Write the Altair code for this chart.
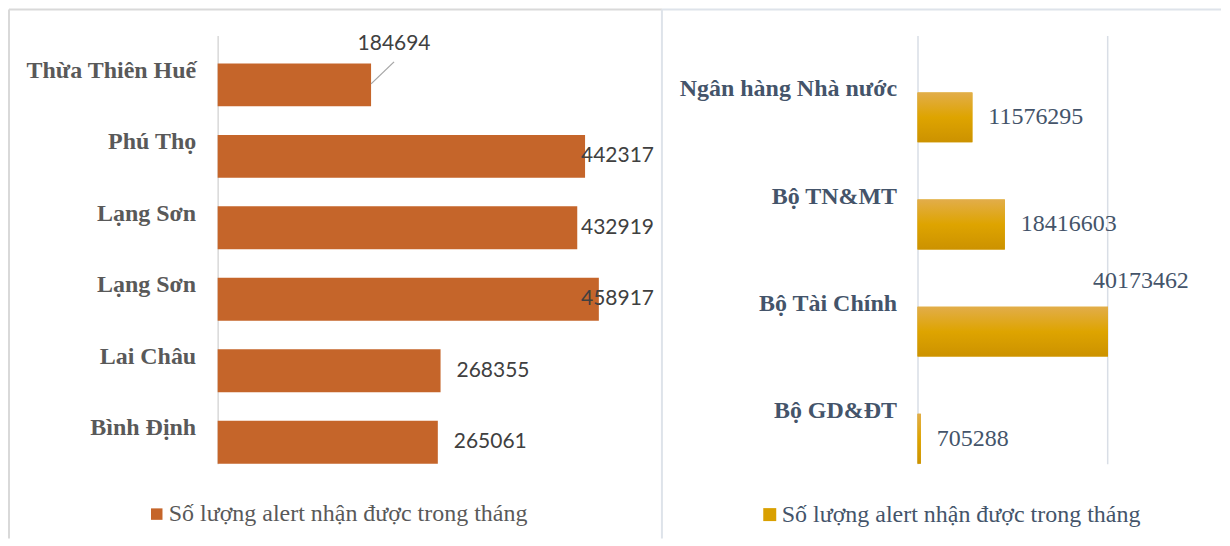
import json
import altair as alt
import pandas as pd

# ---------------- data ----------------
series_name = "Số lượng alert nhận được trong tháng"

left_categories = ["Thừa Thiên Huế", "Phú Thọ", "Lạng Sơn", "Lạng Sơn", "Lai Châu", "Bình Định"]
left_values = [184694, 442317, 432919, 458917, 268355, 265061]

right_categories = ["Ngân hàng Nhà nước", "Bộ TN&MT", "Bộ Tài Chính", "Bộ GD&ĐT"]
right_values = [11576295, 18416603, 40173462, 705288]

ldf = pd.DataFrame({"idx": list(range(len(left_categories))), "cat": left_categories,
                    "value": left_values, "series": series_name})
rdf = pd.DataFrame({"idx": list(range(len(right_categories))), "cat": right_categories,
                    "value": right_values, "series": series_name})
one = pd.DataFrame({"k": [0]})

SERIF = "'Times New Roman', 'Liberation Serif', 'DejaVu Serif', serif"

# ---------------- left panel ----------------
l_yscale = alt.Scale(paddingInner=0.4, paddingOuter=0.196, align=1)
l_xscale = alt.Scale(domain=[0, 500000], nice=False, zero=True)

yl = alt.Y("idx:O", scale=l_yscale, title=None,
           axis=alt.Axis(labelExpr=json.dumps(left_categories, ensure_ascii=False) + "[datum.value]",
                         labelFont=SERIF, labelFontSize=24, labelFontWeight="bold",
                         labelColor="#595959", ticks=False, labelPadding=22,
                         domainColor="#D9D9D9", domainWidth=1.5, grid=False,
                         labelOffset=-14, labelLimit=400))
xl = alt.X("value:Q", scale=l_xscale, axis=None)

bars_l = alt.Chart(ldf).mark_bar().encode(
    x=xl, y=yl,
    color=alt.Color("series:N", scale=alt.Scale(range=["#C5652A"]),
                    legend=alt.Legend(orient="none", legendX=-73, legendY=467.5, title=None,
                                      symbolType="square", symbolSize=132, symbolStrokeWidth=0,
                                      labelFont=SERIF, labelFontSize=24, labelColor="#595959",
                                      labelOffset=0, padding=0, labelLimit=600)))

labels_l = alt.Chart(ldf).transform_filter("datum.idx > 0").transform_calculate(
    lx="min(datum.value + 19230, 437500)"
).mark_text(align="left", baseline="middle", font="Lato", fontSize=21, color="#404040").encode(
    x=alt.X("lx:Q", scale=l_xscale, axis=None), y=yl, text=alt.Text("value:Q", format="d"))

label_l0 = alt.Chart(ldf).transform_filter("datum.idx == 0").mark_text(
    align="center", baseline="middle", font="Lato", fontSize=21, color="#404040", dx=23, dy=-41
).encode(x=xl, y=yl, text=alt.Text("value:Q", format="d"))

leader_l0 = alt.Chart(ldf).transform_filter("datum.idx == 0").mark_rule(
    color="#A6A6A6", strokeWidth=1.3, yOffset=-1, x2Offset=23, y2Offset=-23
).encode(x=xl, x2="value:Q", y=yl, y2="idx:O")

frame_l_top = alt.Chart(one).mark_rule(color="#D9D9D9", strokeWidth=2).encode(
    x=alt.value(-209), x2=alt.value(445), y=alt.value(-26))
frame_l_left = alt.Chart(one).mark_rule(color="#D9D9D9", strokeWidth=2).encode(
    x=alt.value(-209), y=alt.value(-26), y2=alt.value(504))

left = alt.layer(bars_l, labels_l, label_l0, leader_l0, frame_l_top, frame_l_left).properties(
    width=416, height=429)

# ---------------- right panel ----------------
r_yscale = alt.Scale(paddingInner=0.534, paddingOuter=0.266, align=1)
r_xscale = alt.Scale(domain=[0, 40000000], nice=False, zero=True)

yr = alt.Y("idx:O", scale=r_yscale, title=None,
           axis=alt.Axis(labelExpr=json.dumps(right_categories, ensure_ascii=False) + "[datum.value]",
                         labelFont=SERIF, labelFontSize=24, labelFontWeight="bold",
                         labelColor="#44546A", ticks=False, labelPadding=21,
                         domainColor="#D9DEE6", domainWidth=1.5, grid=False,
                         labelOffset=-28, labelLimit=400))
xr = alt.X("value:Q", scale=r_xscale, title=None,
           axis=alt.Axis(values=[40000000], grid=True, gridColor="#D9DEE6", gridWidth=1.5,
                         labels=False, ticks=False, domain=False, maxExtent=0, minExtent=0))

gold = {"gradient": "linear", "x1": 0, "y1": 0, "x2": 0, "y2": 1,
        "stops": [{"offset": 0, "color": "#E2AD4A"},
                  {"offset": 0.5, "color": "#DEA400"},
                  {"offset": 1, "color": "#CC9200"}]}

bars_r_legend = alt.Chart(rdf).mark_bar().encode(
    x=xr, y=yr,
    color=alt.Color("series:N", scale=alt.Scale(range=["#D9A000"]),
                    legend=alt.Legend(orient="none", legendX=-160, legendY=468, title=None,
                                      symbolType="square", symbolSize=169, symbolStrokeWidth=0,
                                      labelFont=SERIF, labelFontSize=24, labelColor="#44546A",
                                      labelOffset=0, padding=0, labelLimit=600)))
bars_r = alt.Chart(rdf).mark_bar(color=gold).encode(x=xr, y=yr)

labels_r = alt.Chart(rdf).transform_filter("datum.value < 30000000").mark_text(
    align="left", baseline="middle", font=SERIF, fontSize=24, color="#44546A", dx=16
).encode(x=xr, y=yr, text=alt.Text("value:Q", format="d"))

label_r_max = alt.Chart(rdf).transform_filter("datum.value >= 30000000").mark_text(
    align="left", baseline="middle", font=SERIF, fontSize=24, color="#44546A", dx=-15, dy=-51
).encode(x=xr, y=yr, text=alt.Text("value:Q", format="d"))

frame_r_top = alt.Chart(one).mark_rule(color="#DEE3EA", strokeWidth=2).encode(
    x=alt.value(-256), x2=alt.value(304), y=alt.value(-26))
frame_r_left = alt.Chart(one).mark_rule(color="#DEE3EA", strokeWidth=2).encode(
    x=alt.value(-256), y=alt.value(-26), y2=alt.value(504))

right = alt.layer(bars_r_legend, bars_r, labels_r, label_r_max, frame_r_top, frame_r_left).properties(
    width=190, height=429)

chart = alt.hconcat(left, right, spacing=285, bounds="flush").resolve_scale(
    color="independent", x="independent", y="independent"
).properties(padding=0, background="white").configure_view(stroke=None)

chart.save("out.html", embed_options={"renderer": "svg", "actions": False})
